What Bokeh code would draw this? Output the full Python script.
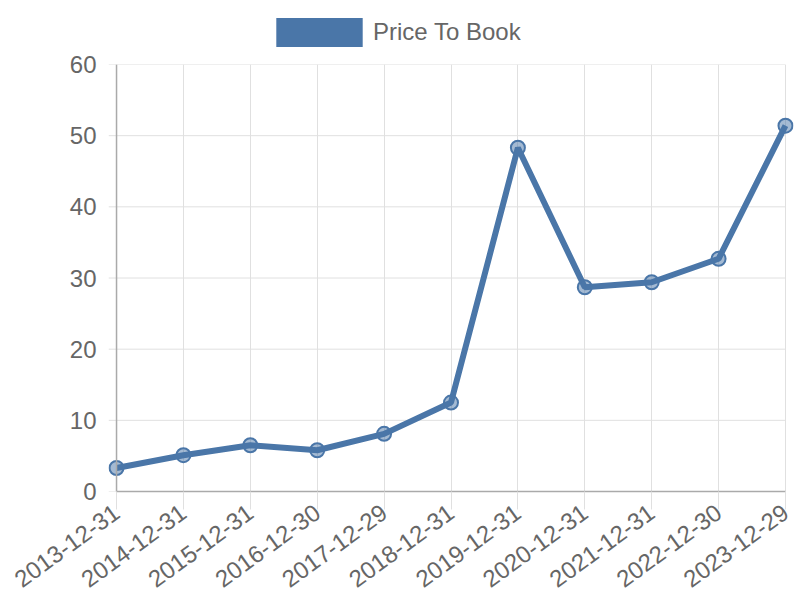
import math
from bokeh.plotting import figure
from bokeh.layouts import column
from bokeh.models import Legend, LegendItem, FixedTicker, Range1d, Span
from bokeh.embed import file_html
from bokeh.resources import INLINE

dates = ["2013-12-31", "2014-12-31", "2015-12-31", "2016-12-30", "2017-12-29",
         "2018-12-31", "2019-12-31", "2020-12-31", "2021-12-31", "2022-12-30", "2023-12-29"]
price_to_book = [3.3, 5.1, 6.5, 5.8, 8.1, 12.5, 48.3, 28.7, 29.4, 32.7, 51.4]
y_ticks = [0, 10, 20, 30, 40, 50, 60]
series_name = "Price To Book"

xs = list(range(len(dates)))
n = len(dates) - 1
pad = 0.12
color = "#4a76a8"
grid = "#e0e0e0"
axis_col = "#aaaaaa"
txt = "#666666"
font = "Liberation Sans"

HEAD = 50
FRAME_LEFT = 108

# header figure carrying the legend
h = figure(width=800, height=HEAD, output_backend="svg", toolbar_location=None,
           x_axis_type=None, y_axis_type=None,
           x_range=Range1d(0, 1), y_range=Range1d(0, 1),
           min_border_left=0, min_border_right=0, min_border_top=0, min_border_bottom=0)
h.grid.visible = False
h.outline_line_color = None
swatch = h.quad(left=[0], right=[0], top=[0], bottom=[0], fill_color=color, line_color=None)
legend = Legend(items=[LegendItem(label=series_name, renderers=[swatch])],
                location=(265 - FRAME_LEFT, 0), orientation="horizontal",
                glyph_width=108, glyph_height=36, padding=0, margin=0, spacing=0,
                label_standoff=-2, border_line_color=None, background_fill_alpha=0,
                label_text_font=font, label_text_font_size="24px", label_text_color=txt)
h.add_layout(legend, "center")

p = figure(width=800, height=600 - HEAD, output_backend="svg", toolbar_location=None,
           x_range=Range1d(-pad, n + pad), y_range=Range1d(0, 60),
           min_border_left=FRAME_LEFT, min_border_right=7, min_border_top=64 - HEAD,
           min_border_bottom=109)
p.outline_line_color = None
p.background_fill_color = "white"
p.border_fill_color = "white"

p.xgrid.grid_line_color = grid
p.xgrid.ticker = FixedTicker(ticks=xs)
p.ygrid.visible = False
# horizontal grid lines, stopping at the last category like the reference
p.segment(x0=-pad, x1=n, y0=y_ticks, y1=y_ticks, line_color=grid, line_width=1)

p.add_layout(Span(location=0, dimension="height", line_color=axis_col, line_width=1.5))

p.line(xs, price_to_book, line_color=color, line_width=6)
p.scatter(xs, price_to_book, size=14, fill_color=color, fill_alpha=0.5,
          line_color=color, line_width=2)

p.xaxis.ticker = FixedTicker(ticks=xs)
p.xaxis.major_label_overrides = {i: d for i, d in enumerate(dates)}
p.xaxis.major_label_orientation = math.radians(36)
p.xaxis.bounds = (0, n)
p.yaxis.ticker = FixedTicker(ticks=y_ticks)

for ax in (p.xaxis[0], p.yaxis[0]):
    ax.axis_line_color = axis_col
    ax.axis_line_width = 1.5
    ax.major_tick_line_color = grid
    ax.major_tick_in = 0
    ax.minor_tick_line_color = None
    ax.major_label_text_color = txt
    ax.major_label_text_font = font
    ax.major_label_text_font_size = "24px"
p.yaxis.axis_line_color = None
p.yaxis.major_tick_out = 0
p.yaxis.major_label_standoff = 12
p.xaxis.major_tick_out = 18
p.xaxis.major_label_standoff = 0

open("out.html", "w").write(file_html(column(h, p, spacing=0), INLINE))
